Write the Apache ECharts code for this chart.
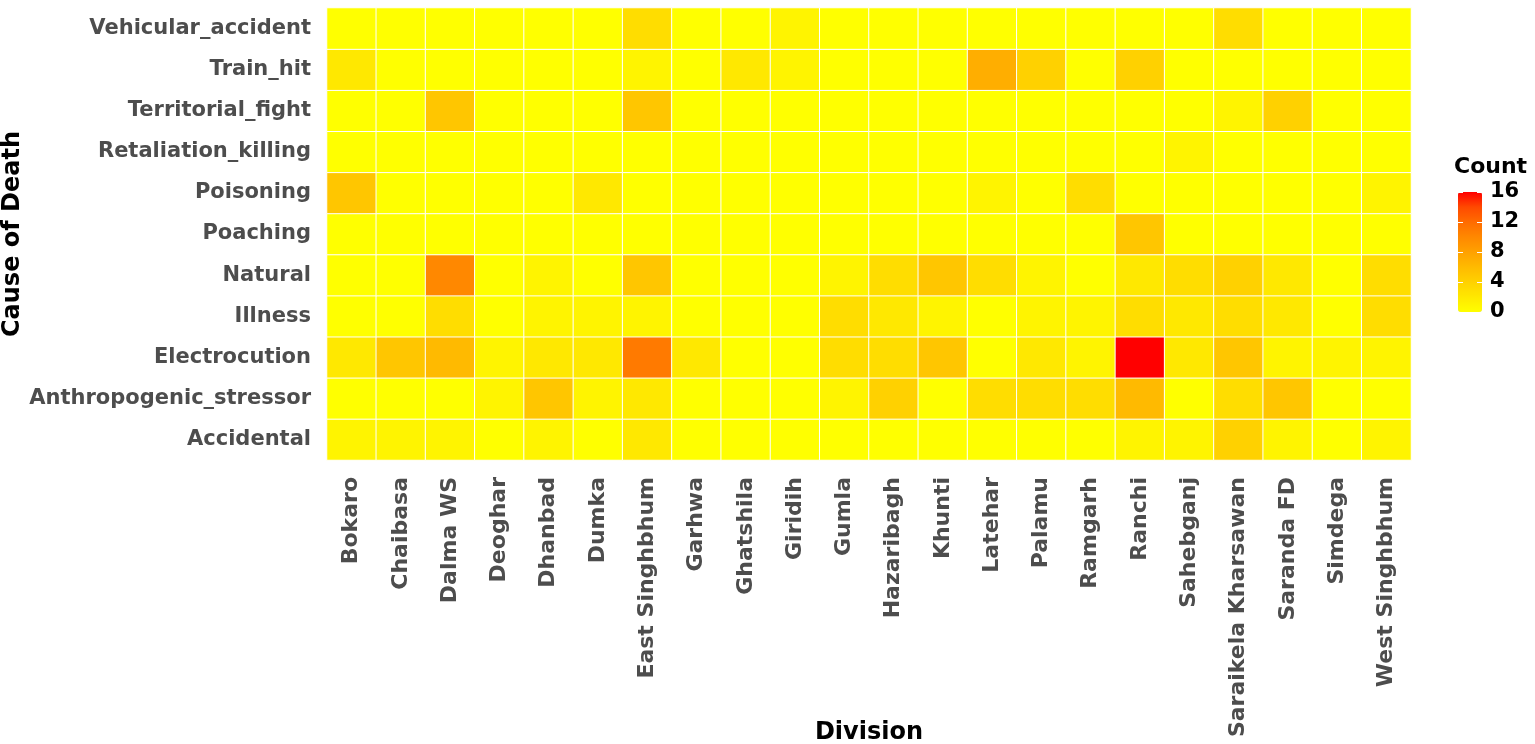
<!DOCTYPE html>
<html>
<head>
<meta charset="utf-8">
<script src="https://cdn.jsdelivr.net/npm/echarts@6/dist/echarts.min.js"></script>
<style>
html,body{margin:0;padding:0;background:#fff;}
#chart{width:1535px;height:744px;}
</style>
</head>
<body>
<div id="chart"></div>
<script>
// Divisions (x axis)
var divisions = ['Bokaro','Chaibasa','Dalma WS','Deoghar','Dhanbad','Dumka','East Singhbhum','Garhwa','Ghatshila','Giridih','Gumla','Hazaribagh','Khunti','Latehar','Palamu','Ramgarh','Ranchi','Sahebganj','Saraikela Kharsawan','Saranda FD','Simdega','West Singhbhum'];
// Causes (y axis, bottom to top)
var causes = ['Accidental','Anthropogenic_stressor','Electrocution','Illness','Natural','Poaching','Poisoning','Retaliation_killing','Territorial_fight','Train_hit','Vehicular_accident'];

// Counts per cause, in division order
var accidental          = [1,1,1,0,1,0,2,0,0,0,0,0,0,0,0,0,1,1,4,1,0,1];
var anthropogenic       = [0,0,0,1,5,1,2,0,0,0,1,4,0,3,3,3,6,0,3,5,0,0];
var electrocution       = [2,5,6,1,2,2,11,2,0,0,3,3,5,0,2,1,16,2,5,1,1,1];
var illness             = [0,0,3,0,1,1,1,0,0,0,3,2,1,0,1,1,3,2,3,2,0,3];
var natural             = [0,0,10,0,1,0,5,0,0,0,1,3,5,3,1,0,2,3,4,2,0,3];
var poaching            = [0,0,0,0,0,0,0,0,0,0,0,0,0,0,0,0,5,0,0,0,0,0];
var poisoning           = [5,0,0,0,0,2,0,0,0,0,0,0,0,1,0,3,0,0,0,0,0,1];
var retaliation         = [0,0,0,0,0,0,0,0,0,0,0,0,0,0,0,0,0,1,0,0,0,0];
var territorial         = [0,0,5,0,0,0,5,0,0,0,0,0,0,0,0,0,0,0,1,4,0,0];
var trainHit            = [2,0,0,0,0,0,1,0,2,1,0,0,0,7,4,0,4,0,0,0,0,0];
var vehicular           = [0,0,0,0,0,0,3,0,0,1,0,0,0,0,0,0,0,0,3,0,0,0];

var legendTicks = [0,16]; // legend range
var legendInterval = 4;

var rows = [accidental, anthropogenic, electrocution, illness, natural, poaching, poisoning, retaliation, territorial, trainHit, vehicular];
var data = [];
rows.forEach(function(r, yi){ r.forEach(function(v, xi){ data.push([xi, yi, v]); }); });

var FONT = 'DejaVu Sans';
var chart = echarts.init(document.getElementById('chart'));
chart.setOption({
  animation: false,
  backgroundColor: '#fff',
  title: {
    text: 'Count', left: 1454, top: 156, padding: 0,
    textStyle: {fontFamily: FONT, fontSize: 22, fontWeight: 'bold', color: '#000'}
  },
  grid: [
    {left: 327, right: 124, top: 8, bottom: 284, containLabel: false, outerBoundsMode: 'none'},
    {left: 1458, top: 192, width: 24, height: 120, containLabel: false, outerBoundsMode: 'none'}
  ],
  xAxis: [
    {
      type: 'category', data: divisions, gridIndex: 0,
      axisLine: {show: false}, axisTick: {show: false}, splitLine: {show: false},
      axisLabel: {rotate: 90, margin: 17, fontFamily: FONT, fontSize: 22, fontWeight: 'bold', color: '#4D4D4D', interval: 0},
      name: 'Division', nameLocation: 'middle', nameGap: 261, nameMoveOverlap: false,
      nameTextStyle: {fontFamily: FONT, fontSize: 24, fontWeight: 'bold', color: '#000'}
    },
    {type: 'category', data: [''], gridIndex: 1, show: false}
  ],
  yAxis: [
    {
      type: 'category', data: causes, gridIndex: 0,
      axisLine: {show: false}, axisTick: {show: false}, splitLine: {show: false},
      axisLabel: {margin: 16, fontFamily: FONT, fontSize: 21, fontWeight: 'bold', color: '#4D4D4D', interval: 0},
      name: 'Cause of Death', nameLocation: 'middle', nameRotate: 90, nameGap: 302, nameMoveOverlap: false,
      nameTextStyle: {fontFamily: FONT, fontSize: 24, fontWeight: 'bold', color: '#000'}
    },
    {
      type: 'value', gridIndex: 1, position: 'right', min: legendTicks[0], max: legendTicks[1], interval: legendInterval,
      z: 10,
      axisLine: {show: false}, splitLine: {show: false},
      axisTick: {show: true, inside: true, length: 5, lineStyle: {color: '#fff', width: 1}},
      axisLabel: {margin: 8, fontFamily: FONT, fontSize: 21, fontWeight: 'bold', color: '#000'}
    },
    {
      type: 'value', gridIndex: 1, position: 'left', min: legendTicks[0], max: legendTicks[1], interval: legendInterval,
      z: 10,
      axisLine: {show: false}, splitLine: {show: false},
      axisTick: {show: true, inside: true, length: 5, lineStyle: {color: '#fff', width: 1}},
      axisLabel: {show: false}
    }
  ],
  visualMap: {
    type: 'continuous', min: legendTicks[0], max: legendTicks[1], seriesIndex: 0,
    orient: 'vertical', left: 1458, top: 192, padding: 0,
    itemWidth: 24, itemHeight: 120, calculable: false, text: null, showLabel: false,
    inRange: {color: ['#FFFF00','#FFE800','#FFD100','#FFBA00','#FFA100','#FF8800','#FF6B00','#FF4900','#FF0000']}
  },
  series: [{
    type: 'heatmap', xAxisIndex: 0, yAxisIndex: 0, data: data,
    itemStyle: {borderColor: '#ffffff', borderWidth: 1},
    emphasis: {disabled: true},
    label: {show: false}
  }]
});
</script>
</body>
</html>
